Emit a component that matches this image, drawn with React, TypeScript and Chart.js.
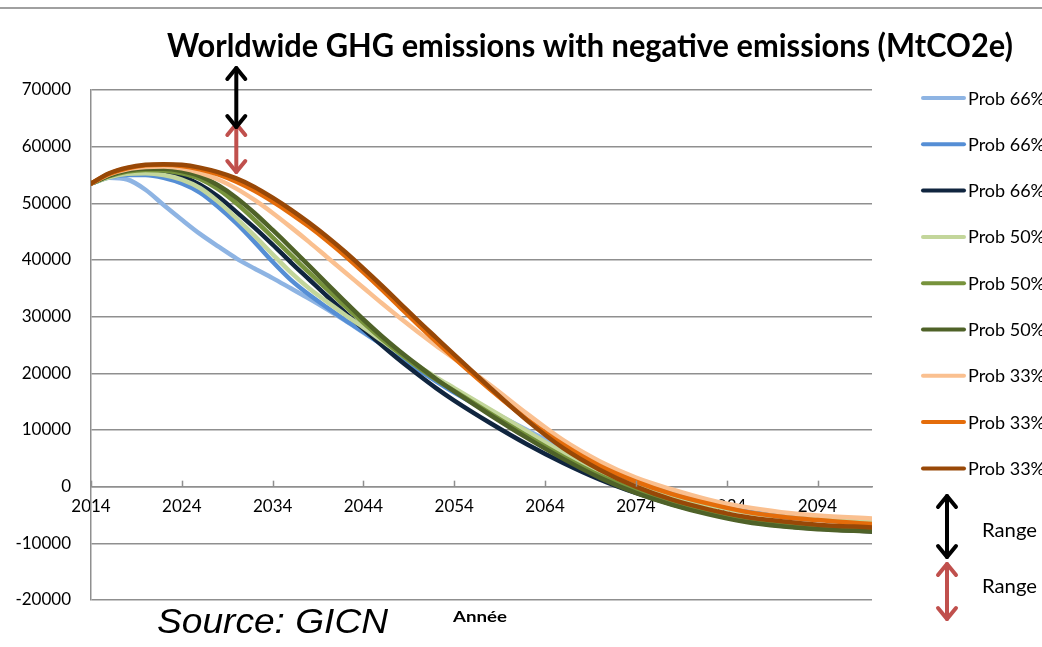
import React, { useEffect, useRef } from "react";
import { Chart, registerables } from "chart.js";

Chart.register(...registerables);

// ---------------- DATA ----------------
const years = [2014, 2016, 2018, 2020, 2022, 2024, 2026, 2028, 2030, 2032, 2034, 2036, 2038, 2040, 2042, 2044, 2046, 2048, 2050, 2052, 2054, 2058, 2062, 2066, 2070, 2074, 2078, 2082, 2086, 2090, 2094, 2100];

const xTickYears = [2014, 2024, 2034, 2044, 2054, 2064, 2074, 2084, 2094];
const yMin = -20000;
const yMax = 70000;
const yStep = 10000;

const prob66a = [53500, 54500, 54200, 52400, 49700, 47100, 44600, 42400, 40300, 38500, 36800, 35000, 33200, 31300, 29300, 27200, 25100, 23000, 21000, 19000, 17000, 13400, 10000, 6700, 3600, 1000, -1100, -2800, -4100, -5000, -5600, -6100];
const prob66b = [53500, 54600, 55000, 55000, 54500, 53500, 51900, 49400, 46500, 43200, 39700, 36500, 33900, 31600, 29400, 27300, 25100, 22900, 20700, 18600, 16600, 13000, 9400, 5900, 2900, 500, -1500, -3100, -4300, -5200, -5800, -6400];
const prob66c = [53500, 54700, 55400, 55600, 55400, 54700, 53300, 51200, 48500, 45700, 42700, 39600, 36600, 33600, 30700, 27800, 25000, 22300, 19800, 17400, 15200, 11200, 7500, 4200, 1300, -1100, -3100, -4700, -6000, -6900, -7400, -7900];
const prob50a = [53500, 54600, 55200, 55300, 55000, 54200, 52700, 50300, 47400, 44300, 41000, 37800, 35000, 32600, 30300, 28100, 25800, 23500, 21300, 19300, 17400, 13600, 9800, 6000, 2700, 100, -1800, -3300, -4500, -5300, -5800, -6200];
const prob50b = [53500, 54800, 55600, 55900, 55800, 55300, 54300, 52500, 50000, 47100, 44000, 40900, 37800, 34800, 31800, 28900, 26100, 23500, 21100, 18900, 16900, 12900, 9000, 5300, 2000, -700, -2900, -4600, -5900, -6700, -7200, -7600];
const prob50c = [53500, 54900, 55800, 56100, 56100, 55700, 54800, 53200, 51000, 48300, 45300, 42200, 39000, 35800, 32600, 29500, 26600, 23900, 21400, 19000, 16800, 12600, 8600, 4900, 1600, -1100, -3200, -4900, -6200, -7000, -7500, -7900];
const prob33a = [53500, 55100, 56000, 56400, 56500, 56200, 55400, 54200, 52600, 50600, 48300, 45800, 43200, 40500, 37800, 35100, 32400, 29800, 27300, 24900, 22600, 17900, 12900, 8200, 4500, 1600, -500, -2300, -3600, -4500, -5100, -5600];
const prob33b = [53500, 55200, 56200, 56700, 56800, 56600, 56000, 55100, 53800, 52200, 50300, 48200, 45900, 43400, 40700, 37800, 34800, 31700, 28600, 25600, 22700, 17100, 11900, 7400, 3700, 900, -1300, -3000, -4400, -5300, -5900, -6600];
const prob33c = [53500, 55300, 56300, 56800, 56900, 56800, 56300, 55500, 54400, 52900, 51000, 48900, 46600, 44100, 41400, 38500, 35500, 32400, 29300, 26300, 23300, 17400, 11700, 6800, 3000, 0, -2300, -4000, -5300, -6100, -6700, -7200];

const seriesValues = [prob66a, prob66b, prob66c, prob50a, prob50b, prob50c, prob33a, prob33b, prob33c];
const seriesLabels = ["Prob 66%", "Prob 66%", "Prob 66%", "Prob 50%", "Prob 50%", "Prob 50%", "Prob 33%", "Prob 33%", "Prob 33%"];
const rangeLabels = ["Range", "Range"];

const titleText = "Worldwide GHG emissions with negative emissions (MtCO2e)";
const sourceText = "Source: GICN";
const xAxisTitle = "Année";

// ---------------- STYLES ----------------
const seriesColors = ["#8EB4E3", "#558ED5", "#10253F", "#C3D69B", "#77933C", "#4F6228", "#FAC090", "#E46C0A", "#984807"];
const gridColor = "#8f8f8f";
const arrowBlack = "#000000";
const arrowRed = "#C0504D";
const baseFont = "Lato, 'Open Sans', sans-serif";

function fitText(ctx: CanvasRenderingContext2D, text: string, x: number, y: number, width: number, font: string) {
  ctx.save();
  ctx.font = font;
  ctx.textAlign = "left";
  ctx.textBaseline = "alphabetic";
  const w = ctx.measureText(text).width;
  ctx.translate(x, y);
  ctx.scale(width / w, 1);
  ctx.fillStyle = "#000";
  ctx.fillText(text, 0, 0);
  ctx.restore();
}

function doubleArrow(ctx: CanvasRenderingContext2D, x: number, y1: number, y2: number, color: string) {
  const hw = 9;
  const hh = 12;
  ctx.save();
  ctx.strokeStyle = color;
  ctx.lineWidth = 4;
  ctx.lineCap = "round";
  ctx.lineJoin = "round";
  ctx.beginPath();
  ctx.moveTo(x, y1 + 1);
  ctx.lineTo(x, y2 - 1);
  ctx.stroke();
  ctx.beginPath();
  ctx.moveTo(x - hw, y1 + hh);
  ctx.lineTo(x, y1 + 1);
  ctx.lineTo(x + hw, y1 + hh);
  ctx.stroke();
  ctx.beginPath();
  ctx.moveTo(x - hw, y2 - hh);
  ctx.lineTo(x, y2 - 1);
  ctx.lineTo(x + hw, y2 - hh);
  ctx.stroke();
  ctx.restore();
}

const decorPlugin = {
  id: "decor",
  beforeDraw(chart: any) {
    const ctx = chart.ctx as CanvasRenderingContext2D;
    ctx.save();
    ctx.fillStyle = "#ffffff";
    ctx.fillRect(0, 0, chart.width, chart.height);
    ctx.fillStyle = "#a0a0a0";
    ctx.fillRect(0, 7, chart.width, 2);
    ctx.restore();
  },
  afterDraw(chart: any) {
    const ctx = chart.ctx as CanvasRenderingContext2D;
    const xs = chart.scales.x;
    const ys = chart.scales.y;
    const y0 = ys.getPixelForValue(0);

    // upward tick marks on the category axis
    ctx.save();
    ctx.strokeStyle = gridColor;
    ctx.lineWidth = 1.5;
    xTickYears.forEach((yr) => {
      const px = Math.round(xs.getPixelForValue(yr)) + 0.5;
      ctx.beginPath();
      ctx.moveTo(px, y0 - 6);
      ctx.lineTo(px, y0);
      ctx.stroke();
    });
    ctx.restore();

    // title
    fitText(ctx, titleText, 167, 57, 846, `bold 32px ${baseFont}`);

    // range arrows on the chart
    const ax = xs.getPixelForValue(2030);
    doubleArrow(ctx, ax, 123, 173, arrowRed);
    doubleArrow(ctx, ax, 67, 128, arrowBlack);

    // legend
    ctx.save();
    chart.data.datasets.forEach((ds: any, i: number) => {
      const cy = 98 + i * 46.3;
      ctx.strokeStyle = ds.borderColor;
      ctx.lineWidth = 4;
      ctx.lineCap = "round";
      ctx.beginPath();
      ctx.moveTo(923, cy);
      ctx.lineTo(964, cy);
      ctx.stroke();
      ctx.fillStyle = "#000";
      ctx.font = `18px ${baseFont}`;
      ctx.textAlign = "left";
      ctx.textBaseline = "alphabetic";
      ctx.fillText(ds.label, 968, cy + 6.5);
    });
    ctx.restore();

    // range legend
    doubleArrow(ctx, 947, 495, 558, arrowBlack);
    doubleArrow(ctx, 947, 563, 620, arrowRed);
    fitText(ctx, rangeLabels[0], 982, 537, 55, `19px ${baseFont}`);
    fitText(ctx, rangeLabels[1], 982, 593, 55, `19px ${baseFont}`);

    // source & axis title
    fitText(ctx, sourceText, 157, 633, 231, "italic 35px 'Liberation Sans', Arial, sans-serif");
    fitText(ctx, xAxisTitle, 453, 622, 54, `bold 15px ${baseFont}`);
  },
};

export default function App() {
  const canvasRef = useRef<HTMLCanvasElement | null>(null);

  useEffect(() => {
    const canvas = canvasRef.current;
    if (!canvas) return;
    const tickFont = { family: baseFont, size: 17 };
    const chart = new Chart(canvas, {
      type: "line",
      data: {
        datasets: seriesValues.map((vals, i) => ({
          label: seriesLabels[i],
          data: years.map((yr, j) => ({ x: yr, y: vals[j] })),
          borderColor: seriesColors[i],
          backgroundColor: seriesColors[i],
          borderWidth: 4.5,
          pointRadius: 0,
          pointHoverRadius: 0,
          fill: false,
          cubicInterpolationMode: "monotone",
          borderCapStyle: "round",
          borderJoinStyle: "round",
          order: seriesValues.length - 1 - i,
        })),
      },
      options: {
        responsive: false,
        animation: false,
        devicePixelRatio: 1,
        layout: { padding: { left: 0, right: 170, top: 90, bottom: 47 } },
        plugins: {
          legend: { display: false },
          title: { display: false },
          tooltip: { enabled: false },
        },
        scales: {
          x: {
            type: "linear",
            min: 2014,
            max: 2100,
            position: { y: 0 },
            afterBuildTicks: (axis: any) => {
              axis.ticks = xTickYears.map((v) => ({ value: v }));
            },
            grid: { display: false, drawTicks: false },
            border: { display: true, color: gridColor, width: 1.5 },
            ticks: {
              font: tickFont,
              color: "#000",
              padding: 10,
              maxRotation: 0,
              autoSkip: false,
              callback: (v: any) => String(v),
            },
          },
          y: {
            type: "linear",
            min: yMin,
            max: yMax,
            afterFit: (axis: any) => {
              axis.width = 91;
            },
            grid: { color: gridColor, lineWidth: 1.5, drawTicks: false },
            border: { display: true, color: gridColor, width: 1.5 },
            ticks: {
              stepSize: yStep,
              font: tickFont,
              color: "#000",
              padding: 20,
              callback: (v: any) => String(v),
            },
          },
        },
      } as any,
      plugins: [decorPlugin],
    });
    return () => chart.destroy();
  }, []);

  return (
    <div style={{ position: "fixed", left: 0, top: 0, width: 1042, height: 647, background: "#fff" }}>
      <canvas ref={canvasRef} width={1042} height={647} style={{ display: "block" }} />
    </div>
  );
}
